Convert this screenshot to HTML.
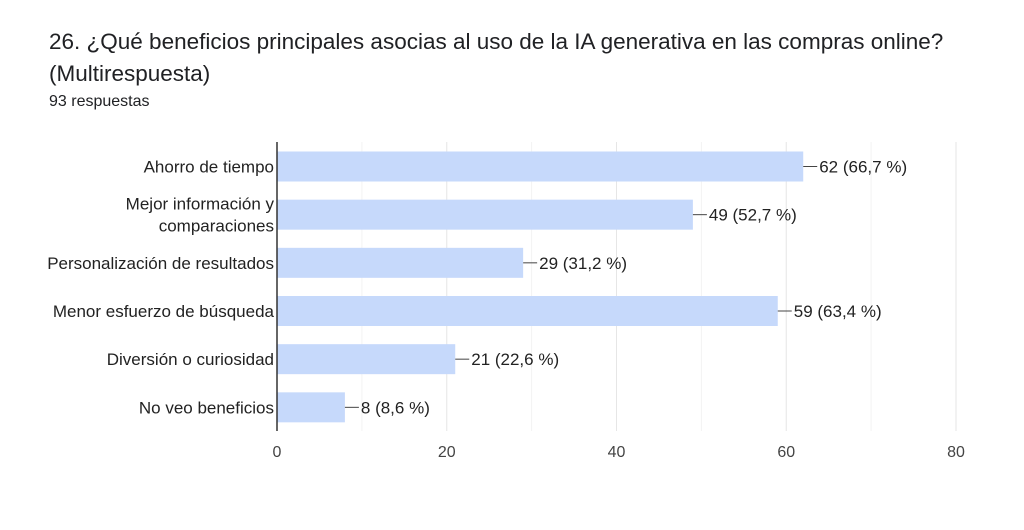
<!DOCTYPE html>
<html><head><meta charset="utf-8"><style>
body{margin:0;background:#fff;width:1024px;height:530px;overflow:hidden;font-family:"Liberation Sans",sans-serif}
#title{position:absolute;left:49px;top:26px;font-size:22.5px;color:#202124;line-height:32px}
#sub{position:absolute;left:49px;top:93px;font-size:16px;color:#202124}
svg{position:absolute;left:0;top:0}
</style></head><body>
<div id="title">26. ¿Qué beneficios principales asocias al uso de la IA generativa en las compras online?<br>(Multirespuesta)</div>
<div id="sub">93 respuestas</div>
<svg id="c" width="1024" height="530"></svg>
<script>
const categories=[["Ahorro de tiempo"],["Mejor información y","comparaciones"],["Personalización de resultados"],["Menor esfuerzo de búsqueda"],["Diversión o curiosidad"],["No veo beneficios"]];
const values=[62,49,29,59,21,8];
const percents=["66,7","52,7","31,2","63,4","22,6","8,6"];
const ticks=[0,20,40,60,80];
const NS="http://www.w3.org/2000/svg",svgEl=document.getElementById('c');
const x0=277,x1=956,yTop=142,yBot=431,band=(yBot-yTop)/categories.length;
const X=v=>x0+(v-0)/(80-0)*(x1-x0);
function mk(t,a){const e=document.createElementNS(NS,t);for(const k in a)e.setAttribute(k,a[k]);svgEl.appendChild(e);return e;}
for(let v=10;v<=80;v+=10){const g=mk('line',{x1:X(v),x2:X(v),y1:yTop,y2:yBot,stroke:v%20?'#f3f3f3':'#e6e6e6'});

}
ticks.forEach(t=>{const e=mk('text',{x:X(t),y:457,'text-anchor':'middle','font-size':16,fill:'#444'});e.textContent=t;

});
values.forEach((v,i)=>{const y=yTop+i*band+9.5,h=30,cy=y+h/2;
const r=mk('rect',{x:x0,y:y,width:X(v)-x0,height:h,fill:'#c6d9fb'});


mk('line',{x1:X(v),x2:X(v)+14,y1:cy,y2:cy,stroke:'#444'});
const l=mk('text',{x:X(v)+16,y:cy+6,'font-size':17,fill:'#222'});l.textContent=v+" ("+percents[i]+" %)";


const lines=categories[i];lines.forEach((s,j)=>{const t=mk('text',{x:x0-3,y:cy+6+(j-(lines.length-1)/2)*22,'text-anchor':'end','font-size':17,fill:'#222'});t.textContent=s;

});
});
const ax=mk('line',{x1:x0,x2:x0,y1:yTop,y2:yBot,stroke:'#333','stroke-width':1.5});


</script>
</body></html>
